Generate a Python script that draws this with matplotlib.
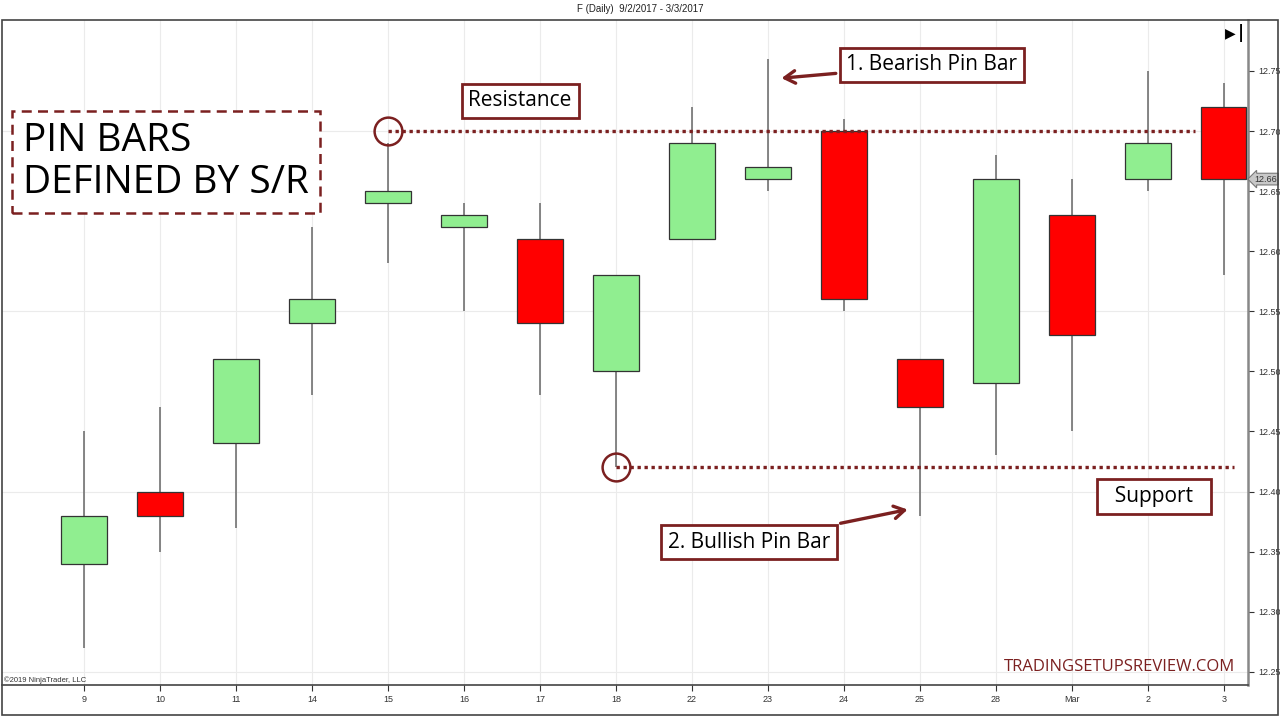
import matplotlib.pyplot as plt
import numpy as np

dates = ["9", "10", "11", "14", "15", "16", "17", "18", "22", "23", "24", "25", "28", "Mar", "2", "3"]
opens = [12.34, 12.40, 12.44, 12.54, 12.64, 12.62, 12.61, 12.50, 12.61, 12.66, 12.70, 12.51, 12.49, 12.63, 12.66, 12.72]
highs = [12.45, 12.47, 12.51, 12.62, 12.69, 12.64, 12.64, 12.58, 12.72, 12.76, 12.71, 12.51, 12.68, 12.66, 12.75, 12.74]
lows = [12.27, 12.35, 12.37, 12.48, 12.59, 12.55, 12.48, 12.42, 12.61, 12.65, 12.55, 12.38, 12.43, 12.45, 12.65, 12.58]
closes = [12.38, 12.38, 12.51, 12.56, 12.65, 12.63, 12.54, 12.58, 12.69, 12.67, 12.56, 12.47, 12.66, 12.53, 12.69, 12.66]

resistance = 12.70
support = 12.42
last_price = 12.66

maroon = "#7b2020"
ann_font = "Open Sans"

fig = plt.figure(figsize=(12.8, 7.17), dpi=100)
ax = fig.add_axes([2 / 1280, 1 - 685 / 717, 1246 / 1280, 665 / 717])

x = np.arange(len(dates))
o = np.array(opens)
c = np.array(closes)
up = c >= o

# grid
ax.set_xticks(x, labels=dates)
for xi in x:
    ax.axvline(xi, color="#ebebeb", lw=0.8, zorder=0)
for yv in [12.25, 12.40, 12.55, 12.70]:
    ax.axhline(yv, color="#ebebeb", lw=0.8, zorder=0)

# candles
ax.vlines(x, lows, highs, color="#666666", lw=1.1, zorder=2)
ax.bar(x, np.abs(c - o), bottom=np.minimum(o, c), width=0.6,
       color=np.where(up, "#90ee90", "#ff0000"), edgecolor="#333333", lw=0.9, zorder=3)

# support / resistance
ax.hlines(resistance, 4, 14.62, color=maroon, lw=2.4, linestyle=(0, (1, 1.1)), zorder=4)
ax.hlines(support, 7, 15.14, color=maroon, lw=2.4, linestyle=(0, (1, 1.1)), zorder=4)
ax.plot([4, 7], [resistance, support], "o", ms=20, mfc="none", mec=maroon, mew=1.8, zorder=5)

box = dict(boxstyle="square,pad=0.33", fc="white", ec=maroon, lw=2)
ax.text(5.74, 12.725, "Resistance", fontsize=15, family=ann_font, ha="center", va="center",
        bbox=box, zorder=6)
ax.text(14.08, 12.396, "  Support  ", fontsize=15, family=ann_font, ha="center", va="center",
        bbox=box, zorder=6)
arrow = dict(arrowstyle="->,head_length=0.5,head_width=0.3", color=maroon, lw=2.4, shrinkB=0)
ax.annotate("1. Bearish Pin Bar", xy=(9.18, 12.744), xytext=(11.16, 12.755), fontsize=15,
            family=ann_font, ha="center", va="center", bbox=box, arrowprops=arrow, zorder=6)
ax.annotate("2. Bullish Pin Bar", xy=(10.84, 12.385), xytext=(8.75, 12.358), fontsize=15,
            family=ann_font, ha="center", va="center", bbox=box, arrowprops=arrow, zorder=6)

ax.text(-0.8, 12.674, "PIN BARS\nDEFINED BY S/R", fontsize=28, family=ann_font, ha="left",
        va="center", linespacing=1.15,
        bbox=dict(boxstyle="square,pad=0.28", fc="white", ec=maroon, lw=1.8, linestyle=(0, (4, 2.5))),
        zorder=6)

ax.text(15.15, 12.247, "TRADINGSETUPSREVIEW.COM", fontsize=12, family=ann_font, color=maroon,
        ha="right", va="bottom", zorder=6)

# last price tag
ax.text(15.4, last_price, f"{last_price:.2f}", fontsize=6.5, family="Liberation Sans", color="#333333",
        ha="left", va="center", clip_on=False,
        bbox=dict(boxstyle="larrow,pad=0.15", fc="#c8c8c8", ec="#777777", lw=0.8))

ax.set_xlim(-1.08, 15.32)
ax.set_ylim(12.239, 12.7924)
ax.set_yticks(np.arange(12.25, 12.751, 0.05))
ax.yaxis.tick_right()
ax.yaxis.set_major_formatter(plt.FormatStrFormatter("%.2f"))
ax.tick_params(axis="both", labelsize=6.5, colors="#333333", length=4, width=0.8)
for lab in ax.get_xticklabels() + ax.get_yticklabels():
    lab.set_family("Liberation Sans")
ax.spines["top"].set_visible(False)
ax.spines["left"].set_visible(False)
ax.spines["right"].set_color("#888888")
ax.spines["right"].set_linewidth(1.8)
ax.spines["bottom"].set_color("#444444")
ax.spines["bottom"].set_linewidth(1.2)

# chart frame, title and extras
fig.patches.append(plt.Rectangle((1.5 / 1280, 2 / 717), 1276 / 1280, 695 / 717, transform=fig.transFigure,
                                 fill=False, ec="#444444", lw=1.2))
fig.text(0.5, 1 - 9 / 717, "F (Daily)  9/2/2017 - 3/3/2017", fontsize=7, family="Liberation Sans",
         color="#222222", ha="center", va="center")
fig.text(4 / 1280, 1 - 680 / 717, "\u00a92019 NinjaTrader, LLC", fontsize=5.5, family="Liberation Sans",
         color="#333333", ha="left", va="center")
fig.text(1236 / 1280, 1 - 33 / 717, "\u25b6", fontsize=10, family="DejaVu Sans", color="black",
         ha="right", va="center")
fig.text(1238 / 1280, 1 - 33 / 717, "|", fontsize=12, family="DejaVu Sans", weight="bold", color="black",
         ha="left", va="center")

fig.savefig("out.png", dpi=100)
